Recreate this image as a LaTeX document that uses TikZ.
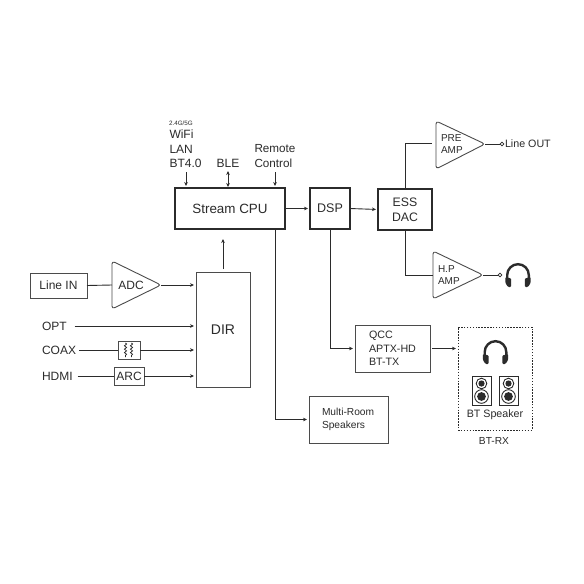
\documentclass[tikz,border=0pt]{standalone}
\usepackage{fontspec}
\setmainfont{Liberation Sans}
\usetikzlibrary{arrows.meta,decorations.pathmorphing}
\definecolor{ink}{HTML}{2B2B2B}
\tikzset{
  x=1pt,y=-1pt,
  every node/.style={text=ink,inner sep=0pt,outer sep=0pt,font=\fontsize{12}{14}\selectfont},
  blk/.style={draw=ink,line width=1.05pt,inner sep=0pt},
  thinblk/.style={draw=ink!85,line width=.95pt,inner sep=0pt},
  wire/.style={draw=ink,line width=.9pt},
  arr/.style={wire,-{Stealth[length=4pt,width=3.6pt]},shorten >=2pt},
  barr/.style={wire,{Stealth[length=4pt,width=3.6pt]}-{Stealth[length=4pt,width=3.6pt]},shorten >=1pt},
  tri/.style={draw=ink!85,line width=.9pt,rounded corners=3pt,line join=round},
  dot/.style={circle,draw=ink,line width=.7pt,fill=white,minimum size=3.6pt},
  small/.style={font=\fontsize{10.2}{12.6}\selectfont},
  mid/.style={font=\fontsize{10.7}{13.5}\selectfont},
  big/.style={font=\fontsize{13.4}{16}\selectfont},
  headset/.pic={
    \draw[ink,line width=2.4pt] (-10.8,3) -- (-10.8,0) arc[start angle=180,end angle=360,radius=10.8] -- (10.8,3);
    \fill[ink,rounded corners=1pt] (-12.6,2) -- (-6.8,3.5) -- (-6.8,12) -- (-10,12) -- (-12.6,8) -- cycle;
    \fill[ink,rounded corners=1pt] (12.6,2) -- (6.8,3.5) -- (6.8,12) -- (10,12) -- (12.6,8) -- cycle;
  },
  loudspk/.pic={
    \draw[ink,line width=.8pt] (-9.5,-14.5) rectangle (9.5,14.5);
    \draw[ink,line width=.9pt] (0,-7) circle[radius=5.3];
    \fill[ink] (0,-7) circle[radius=3.1];
    \draw[ink,line width=.9pt] (0,6) circle[radius=6.8];
    \fill[ink] (0,6) circle[radius=4.4];
  },
}
\begin{document}
\begin{tikzpicture}
\useasboundingbox[fill=white] (0,0) rectangle (584,584);

% main blocks
\node[blk,big,minimum width=110pt,minimum height=41pt] (cpu) at (230,208.5) {Stream CPU};
\node[blk,minimum width=40pt,minimum height=41pt,font=\fontsize{12.5}{15}\selectfont] (dsp) at (330,208.5) {DSP};
\node[blk,minimum width=54pt,minimum height=41pt,align=center,font=\fontsize{12.3}{15}\selectfont] (dac) at (405,209.5) {ESS\\DAC};
\node[thinblk,minimum width=57pt,minimum height=25pt] (linein) at (58.5,285.5) {Line IN};
\node[thinblk,minimum width=54pt,minimum height=115pt,font=\fontsize{14}{16}\selectfont] (dir) at (223,329.5) {DIR};
\node[thinblk,minimum width=22pt,minimum height=18pt] (coil) at (129,350) {};
\node[thinblk,minimum width=30pt,minimum height=18pt] (arc) at (129,376) {ARC};
\node[thinblk,minimum width=75pt,minimum height=47pt] (qcc) at (392.5,348.5) {};
\node[mid,align=left,anchor=west] (qcctext) at (369,348.5) {QCC\\APTX-HD\\BT-TX};
\node[thinblk,minimum width=79pt,minimum height=47pt] (multi) at (348.5,419.5) {};
\node[small,align=left,anchor=west] (multitext) at (322,419.5) {Multi-Room\\Speakers};
\node[draw=ink,line width=.9pt,dash pattern=on 1.5pt off 1.4pt,minimum width=74pt,minimum height=103pt] (rx) at (495,378.5) {};
\node[small] (rxtext) at (494,441) {BT-RX};
\node[mid] (btspk) at (495,415) {BT Speaker};

% amplifier triangles
\draw[tri] (112,261) -- (161,285) -- (112,309) -- cycle;
\coordinate (adcL) at (112,285); \coordinate (adcR) at (161,285);
\node (adc) at (131,285) {ADC};
\draw[tri] (436,121) -- (485,144) -- (436,169) -- cycle;
\coordinate (preL) at (432,143); \coordinate (preR) at (485,144);
\node[font=\fontsize{10}{12.5}\selectfont,align=left,anchor=west] (pre) at (441,144) {PRE\\AMP};
\draw[tri] (433,251) -- (483,275) -- (433,299) -- cycle;
\coordinate (hpL) at (433,275); \coordinate (hpR) at (483,275);
\node[font=\fontsize{10}{12.5}\selectfont,align=left,anchor=west] (hp) at (438,275) {H.P\\AMP};

% labels
\node[font=\fontsize{6.3}{7}\selectfont,anchor=west] (ghz) at (169,123) {2.4G/5G};
\node[anchor=west] (wifi) at (169.5,134.5) {WiFi};
\node[anchor=west] (lan) at (169.5,149) {LAN};
\node[anchor=west] (bt) at (169.5,163.5) {BT4.0};
\node (ble) at (228,163.5) {BLE};
\node[font=\fontsize{11.7}{14.5}\selectfont,align=left,anchor=west] (remote) at (254.5,156) {Remote\\Control};
\node[anchor=west] (opt) at (42,326) {OPT};
\node[anchor=west] (coax) at (42,350) {COAX};
\node[anchor=west] (hdmi) at (42,376) {HDMI};
\node[mid,anchor=west] (lineout) at (505,144) {Line OUT};

% output dots
\node[dot] (d1) at (502,144) {};
\node[dot] (d2) at (500,275) {};

% free ends
\coordinate (wifiA) at (186,172);
\coordinate (bleA) at (228,171);
\coordinate (remA) at (275,172);
\coordinate (cpuT1) at (186,188);
\coordinate (cpuT2) at (228,188);
\coordinate (cpuT3) at (275,188);
\coordinate (cpuB) at (275,229);
\coordinate (dsB) at (330,229);
\coordinate (dirT) at (223,269);
\coordinate (dirU) at (223,237);
\coordinate (dacT) at (405,189);
\coordinate (dacB) at (405,230);

% connectors
\draw[arr] (wifiA) -- (cpuT1);
\draw[barr] (bleA) -- (cpuT2);
\draw[arr] (remA) -- (cpuT3);
\draw[arr] (cpu.east) -- (dsp.west);
\draw[arr] (dsp.east) -- (dac.west);
\draw[wire,line width=.7pt] (dacT) |- (preL);
\draw[wire] (dacB) |- (hpL);
\draw[wire,line width=.7pt] (preR) -- (d1.west);
\draw[wire,line width=.7pt] (hpR) -- (d2.west);
\draw[wire] (linein.east) -- (adcL);
\draw[arr] (adcR) -- (adcR -| dir.west);
\draw[arr] (opt.east) ++(8,0) coordinate (optS) -- (optS -| dir.west);
\draw[wire,line width=.7pt] (coax.east) ++(3,0) coordinate (coaxS) -- (coil.west);
\draw[arr,line width=.7pt] (coil.east) -- (coil.east -| dir.west);
\draw[wire] (hdmi.east) ++(5,0) coordinate (hdmiS) -- (arc.west);
\draw[arr] (arc.east) -- (arc.east -| dir.west);
\draw[arr,line width=.7pt] (dirT) -- (dirU);
\draw[arr] (cpuB) |- (multi.west);
\draw[arr] (dsB) |- (qcc.west);
\draw[arr,line width=.7pt] (qcc.east) ++(2,0) coordinate (qccS) -- (qccS -| rx.west);

% coil symbol
\draw[ink,line width=.75pt,decorate,decoration={snake,amplitude=1.1pt,segment length=3.4pt}] (125.5,343) -- (125.5,357);
\draw[ink,line width=.75pt,decorate,decoration={snake,amplitude=1.1pt,segment length=3.4pt}] (131.5,343) -- (131.5,357);

% symbols
\pic at (518,275) {headset};
\pic at (495.5,352) {headset};
\pic at (481.5,390.5) {loudspk};
\pic at (508.5,390.5) {loudspk};
\end{tikzpicture}
\end{document}
